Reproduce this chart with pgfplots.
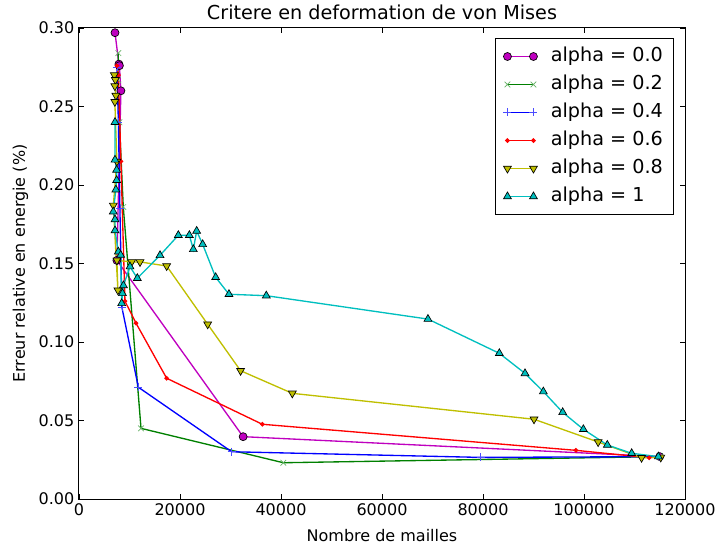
\documentclass[border=0pt]{standalone}
\usepackage{fontspec}
\setmainfont{DejaVu Sans}
\usepackage{pgfplots}
\pgfplotsset{compat=1.18}
\definecolor{mc}{rgb}{0.75,0,0.75}
\definecolor{gc}{rgb}{0,0.5,0}
\definecolor{bc}{rgb}{0,0,1}
\definecolor{rc}{rgb}{1,0,0}
\definecolor{yc}{rgb}{0.75,0.75,0}
\definecolor{cc}{rgb}{0,0.75,0.75}
\begin{document}
\begin{tikzpicture}
\useasboundingbox (-59.25pt,-37.5pt) rectangle (477.75pt,374.25pt);
\begin{axis}[
  at={(0,0)}, anchor=south west,
  scale only axis, width=454.5pt, height=353.25pt,
  xmin=0, xmax=120000, ymin=0, ymax=0.3,
  xtick={0,20000,40000,60000,80000,100000,120000},
  ytick={0,0.05,0.1,0.15,0.2,0.25,0.3},
  scaled x ticks=false, scaled y ticks=false,
  xticklabel style={/pgf/number format/.cd, fixed, 1000 sep={}},
  yticklabel style={/pgf/number format/.cd, fixed, fixed zerofill, precision=2},
  /pgf/number format/assume math mode=true,
  tick label style={font=\fontsize{12}{14}\selectfont},
  label style={font=\fontsize{12}{14}\selectfont},
  title={Critere en deformation de von Mises},
  title style={font=\fontsize{14.4}{17}\selectfont, yshift=-3pt},
  xlabel={Nombre de mailles},
  xlabel style={yshift=-3.5pt},
  ylabel={Erreur relative en energie (\%)},
  ylabel style={yshift=1pt},
  tick align=inside, major tick length=3.75pt,
  tick style={black, line width=0.5pt},
  axis line style={line width=0.75pt},
  legend style={at={(1,1)}, anchor=north east, xshift=-8.25pt, yshift=-7.5pt,
    font=\fontsize{14.4}{17}\selectfont, draw=black, line width=0.75pt,
    inner xsep=6pt, inner ysep=3pt,
    nodes={text height=10.5pt, text depth=3pt, inner ysep=3.75pt},
    /tikz/every odd column/.append style={column sep=8pt}},
  legend cell align=left,
  legend image code/.code={\draw[#1] plot coordinates {(0pt,0pt) (19.5pt,0pt)};},
]
\addplot[color=mc, line width=1pt, mark=*, mark size=3pt, mark options={fill=mc, draw=black, line width=0.5pt}] coordinates {
(7130,0.297) (7900,0.277) (8000,0.276) (8300,0.260) (7500,0.152) (32500,0.0397) (115000,0.027)};
\addlegendentry{alpha = 0.0}
\addplot[color=gc, line width=1pt, mark=x, mark size=3pt, mark options={draw=gc!60, line width=0.5pt}] coordinates {
(7790,0.284) (7700,0.267) (8000,0.240) (8770,0.186) (12280,0.045) (40460,0.0231) (115000,0.027)};
\addlegendentry{alpha = 0.2}
\addplot[color=bc, line width=1pt, mark=+, mark size=3pt, mark options={draw=bc!70, line width=0.5pt}] coordinates {
(7500,0.275) (7800,0.24) (8100,0.185) (8500,0.122) (11750,0.0712) (30230,0.0301) (79540,0.0265) (115000,0.027)};
\addlegendentry{alpha = 0.4}
\addplot[color=rc, line width=1pt, mark=*, mark size=1.2pt, mark options={fill=rc, draw=rc}] coordinates {
(7500,0.276) (7800,0.27) (8300,0.215) (9100,0.126) (11290,0.112) (17360,0.0769) (36300,0.0476) (98400,0.031) (112900,0.0263) (115000,0.027)};
\addlegendentry{alpha = 0.6}
\addplot[color=yc, line width=1pt, mark=triangle*, mark size=3.4pt, mark options={fill=yc, draw=black, line width=0.5pt, rotate=180}] coordinates {
(7000,0.270) (7200,0.267) (7100,0.263) (7300,0.257) (7100,0.253) (7500,0.215) (6800,0.187) (7700,0.133) (7500,0.152) (10430,0.151) (12080,0.151) (17360,0.1484) (25480,0.1113) (32000,0.0817) (42240,0.0673) (90100,0.0508) (102800,0.0363) (111400,0.0263) (115200,0.0265)};
\addlegendentry{alpha = 0.8}
\addplot[color=cc, line width=1pt, mark=triangle*, mark size=3.4pt, mark options={fill=cc, draw=black, line width=0.5pt}] coordinates {
(7130,0.240) (7130,0.216) (7450,0.2096) (7450,0.203) (7300,0.197) (6790,0.183) (7130,0.178) (7130,0.171) (7790,0.1575) (8250,0.1554) (8450,0.1246) (8600,0.131) (8800,0.136) (10100,0.148) (11550,0.1406) (16040,0.1552) (19670,0.168) (21850,0.168) (22640,0.159) (23300,0.1707) (24490,0.1622) (27060,0.1412) (29700,0.1304) (37090,0.1295) (69100,0.1146) (83230,0.0928) (88320,0.080) (91950,0.0684) (95780,0.0552) (99870,0.0444) (104620,0.0344) (109440,0.0291) (114720,0.0270)};
\addlegendentry{alpha = 1}
\end{axis}
\end{tikzpicture}
\end{document}
